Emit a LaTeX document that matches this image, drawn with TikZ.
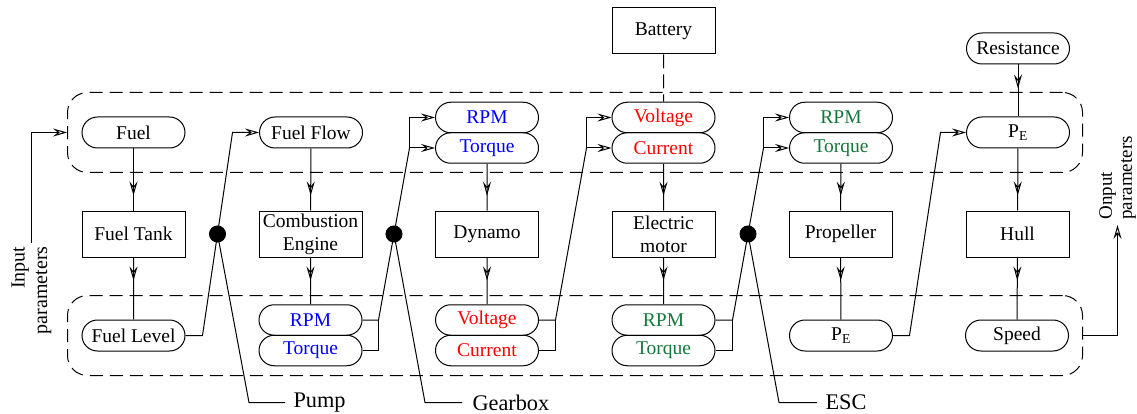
\documentclass[tikz,border=0pt]{standalone}
\usepackage{fontspec}
\setmainfont{Liberation Serif}
\newfontfamily\tnr{Liberation Serif}
\usetikzlibrary{arrows.meta,shapes.misc,decorations.markings,calc}
\definecolor{myblue}{RGB}{0,0,255}
\definecolor{myred}{RGB}{255,0,0}
\definecolor{mygreen}{RGB}{20,120,60}
\newcommand{\fsn}{\tnr\fontsize{19.5}{23}\selectfont}
\newcommand{\fsl}{\tnr\fontsize{22.3}{26}\selectfont}
\newcommand{\fsp}{\tnr\fontsize{20}{22.5}\selectfont}
\newcommand{\fso}{\tnr\fontsize{19}{20}\selectfont}
\begin{document}
\begin{tikzpicture}[x=1pt,y=-1pt,line width=1pt,
  >={Stealth[open,length=14pt,width=8pt,inset=5pt,line width=1pt]},
  pill/.style={draw,rounded rectangle,minimum width=103pt,minimum height=31pt,inner sep=0pt,font=\fsn},
  pilltwo/.style={pill,minimum height=30.5pt},
  box/.style={draw,rectangle,minimum width=103pt,minimum height=46pt,inner sep=2pt,align=center,font=\fsn},
  dbox/.style={draw,dash pattern=on 13pt off 7pt,rounded corners=20pt,minimum width=1015pt,minimum height=80pt,inner sep=0pt},
  dot/.style={circle,fill=black,draw=black,minimum size=16pt,inner sep=0pt},
  lbl/.style={font=\fsl,inner xsep=8pt,inner ysep=0pt,anchor=west},
  midarr/.style={postaction={decorate,decoration={markings,mark=at position #1 with {\arrow{>}}}}}]
\useasboundingbox (0,0) rectangle (1137,414);

% dashed groups
\node[dbox] (upper) at (575,132.5) {};
\node[dbox] (lower) at (575,335.5) {};

% column 1
\node[pill] (fuel) at (133.5,132.5) {Fuel};
\node[box] (tank) at (133.5,234) {Fuel Tank};
\node[pill] (flevel) at (133.5,335.5) {Fuel Level};
% column 2
\node[pill] (fflow) at (311,132.5) {Fuel Flow};
\node[box] (engine) at (310.5,234) {Combustion\\Engine};
\node[pilltwo,text=myblue] (rpmB) at (310.5,320) {RPM};
\node[pilltwo,text=myblue] (torqB) at (310.5,350.5) {Torque};
% column 3
\node[pilltwo,text=myblue] (rpmT) at (487,117.5) {RPM};
\node[pilltwo,text=myblue] (torqT) at (487,148) {Torque};
\node[box] (dynamo) at (487,234) {Dynamo};
\node[pilltwo,text=myred] (voltB) at (487,320) {Voltage};
\node[pilltwo,text=myred] (currB) at (487,350.5) {Current};
% column 4
\node[box] (battery) at (663.5,31) {Battery};
\node[pilltwo,text=myred] (voltT) at (663.5,117.5) {Voltage};
\node[pilltwo,text=myred] (currT) at (663.5,148) {Current};
\node[box] (motor) at (663.5,234) {Electric\\motor};
\node[pilltwo,text=mygreen] (rpmG) at (663.5,320) {RPM};
\node[pilltwo,text=mygreen] (torqG) at (663.5,350.5) {Torque};
% column 5
\node[pilltwo,text=mygreen] (rpmGT) at (841,117.5) {RPM};
\node[pilltwo,text=mygreen] (torqGT) at (841,148) {Torque};
\node[box] (prop) at (840.5,234) {Propeller};
\node[pill] (peB) at (841,335.5) {P\textsubscript{E}};
% column 6
\node[pill] (resist) at (1018,48.5) {Resistance};
\node[pill] (peT) at (1018,132.5) {P\textsubscript{E}};
\node[box] (hull) at (1017.5,234) {Hull};
\node[pill] (speed) at (1017,335.5) {Speed};

% input / output labels
\node[rotate=90,anchor=east,align=right,font=\fsp,inner sep=3pt] (inlbl) at (31.5,243) {Input\\parameters};
\node[rotate=90,anchor=west,align=left,font=\fso,inner sep=5pt] (outlbl) at (1117.5,225) {Onput\\parameters};
\draw[->] (inlbl.east) |- (upper.west);
\draw[->] (lower.east) -| (outlbl.west);

% vertical flows
\draw[midarr=47pt] (fuel) -- (tank);
\draw[midarr=23pt] (tank) -- (flevel);
\draw[midarr=47pt] (fflow) -- (engine);
\draw[midarr=23pt] (engine) -- (rpmB);
\draw[midarr=32pt] (torqT) -- (dynamo);
\draw[midarr=23pt] (dynamo) -- (voltB);
\draw[midarr=32pt] (currT) -- (motor);
\draw[midarr=23pt] (motor) -- (rpmG);
\draw[midarr=32pt] (torqGT) -- (prop);
\draw[midarr=23pt] (prop) -- (peB);
\draw[midarr=24pt] (resist) -- (peT);
\draw[midarr=47pt] (peT) -- (hull);
\draw[midarr=23pt] (hull) -- (speed);
\draw[dash pattern=on 14pt off 6pt] (battery) -- (voltT);

% Fuel level -> Fuel flow (pump)
\coordinate (a1) at (202.5,335.5);
\coordinate (a2) at (232.5,132.5);
\draw[->] (flevel) -- (a1) -- (a2) -- (fflow);
% RPM/Torque -> RPM/Torque (gearbox)
\coordinate (b1) at (378.5,320);
\coordinate (b2) at (409.5,148);
\coordinate (b3) at (409.5,117.5);
\draw (torqB) -| (b1);
\draw (rpmB) -- (b1) -- (b2);
\draw[->] (b2) -- (torqT);
\draw[->] (b2) -- (b3) -- (rpmT);
% Voltage/Current -> Voltage/Current
\coordinate (c1) at (555.5,320);
\coordinate (c2) at (586.5,148);
\coordinate (c3) at (586.5,117.5);
\draw (currB) -| (c1);
\draw (voltB) -- (c1) -- (c2);
\draw[->] (c2) -- (currT);
\draw[->] (c2) -- (c3) -- (voltT);
% RPM/Torque -> RPM/Torque (ESC)
\coordinate (d1) at (732.5,320);
\coordinate (d2) at (763.5,148);
\coordinate (d3) at (763.5,117.5);
\draw (torqG) -| (d1);
\draw (rpmG) -- (d1) -- (d2);
\draw[->] (d2) -- (torqGT);
\draw[->] (d2) -- (d3) -- (rpmGT);
% PE -> PE
\coordinate (e1) at (909.5,335.5);
\coordinate (e2) at (940.5,132.5);
\draw[->] (peB) -- (e1) -- (e2) -- (peT);

% devices
\node[dot] (pumpdot) at ($(a1)!0.5!(a2)$) {};
\node[dot] (gbdot) at ($(b1)!0.5!(b2)$) {};
\node[dot] (escdot) at ($(d1)!0.5!(d2)$) {};
\node[lbl] (pump) at (285,402.5) {Pump};
\node[lbl,inner xsep=10pt] (gearbox) at (462,402.5) {Gearbox};
\node[lbl] (esc) at (817,402.5) {ESC};
\coordinate (p1) at (249,402.5);
\coordinate (g1) at (425,402.5);
\coordinate (s1) at (779,402.5);
\draw (pumpdot.center) -- (p1) -- (pump);
\draw (gbdot.center) -- (g1) -- (gearbox);
\draw (escdot.center) -- (s1) -- (esc);
\end{tikzpicture}
\end{document}
